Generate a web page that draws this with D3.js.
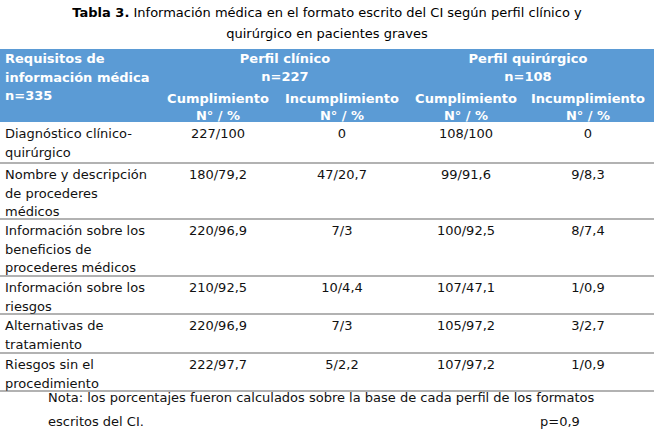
<!DOCTYPE html>
<html><head><meta charset="utf-8">
<script src="https://cdn.jsdelivr.net/npm/d3@7"></script>
<style>body{margin:0;background:#fff}svg{font-family:"DejaVu Sans",Verdana,sans-serif;font-size:13px}</style>
</head><body><svg id="chart" width="654" height="434"></svg>
<script>
var requisitos = [["Diagnóstico clínico-","quirúrgico"],["Nombre y descripción","de procederes","médicos"],["Información sobre los","beneficios de","procederes médicos"],["Información sobre los","riesgos"],["Alternativas de","tratamiento"],["Riesgos sin el","procedimiento"]];
var clinicoCumple = ["227/100","180/79,2","220/96,9","210/92,5","220/96,9","222/97,7"];
var clinicoIncumple = ["0","47/20,7","7/3","10/4,4","7/3","5/2,2"];
var quirCumple = ["108/100","99/91,6","100/92,5","107/47,1","105/97,2","107/97,2"];
var quirIncumple = ["0","9/8,3","8/7,4","1/0,9","3/2,7","1/0,9"];
var rowHeights = [41,56,57,38,39,38];
var colCenters = [218, 342, 466, 588];

var svg = d3.select("#chart");
var lh = 18.5;

// title
var t1 = svg.append("text").attr("x",327).attr("y",17).attr("text-anchor","middle");
t1.append("tspan").attr("font-weight","bold").text("Tabla 3.");
t1.append("tspan").text(" Información médica en el formato escrito del CI según perfil clínico y");
svg.append("text").attr("x",327).attr("y",38).attr("text-anchor","middle").text("quirúrgico en pacientes graves");

// header
svg.append("rect").attr("x",0).attr("y",49).attr("width",654).attr("height",73).attr("fill","#5b9bd5");
var hd = svg.append("g").attr("fill","#fff").attr("font-weight","bold");
["Requisitos de","información médica","n=335"].forEach(function(s,i){
  hd.append("text").attr("x",5).attr("y",63+i*lh).text(s);
});
[["Perfil clínico",285],["Perfil quirúrgico",528]].forEach(function(p){
  hd.append("text").attr("x",p[1]).attr("y",63).attr("text-anchor","middle").text(p[0]);
});
[["n=227",285],["n=108",528]].forEach(function(p){
  hd.append("text").attr("x",p[1]).attr("y",81).attr("text-anchor","middle").text(p[0]);
});
colCenters.forEach(function(cx,i){
  hd.append("text").attr("x",cx).attr("y",103).attr("text-anchor","middle").text(i%2==0?"Cumplimiento":"Incumplimiento");
  hd.append("text").attr("x",cx).attr("y",120).attr("text-anchor","middle").text("N° / %");
});

// body rows
var y = 122;
requisitos.forEach(function(lines,r){
  lines.forEach(function(s,i){
    svg.append("text").attr("x",5).attr("y",y+16+i*lh).attr("fill","#111").text(s);
  });
  [clinicoCumple,clinicoIncumple,quirCumple,quirIncumple].forEach(function(arr,c){
    svg.append("text").attr("x",colCenters[c]).attr("y",y+16).attr("text-anchor","middle").attr("fill","#111").text(arr[r]);
  });
  y += rowHeights[r];
  svg.append("line").attr("x1",0).attr("x2",654).attr("y1",y).attr("y2",y).attr("stroke","#666").attr("stroke-width",1.2);
});

// note
svg.append("text").attr("x",48).attr("y",y+11).attr("fill","#111").text("Nota: los porcentajes fueron calculados sobre la base de cada perfil de los formatos");
svg.append("text").attr("x",48).attr("y",y+35).attr("fill","#111").text("escritos del CI.");
svg.append("text").attr("x",540).attr("y",y+35).attr("fill","#111").text("p=0,9");
</script></body></html>
